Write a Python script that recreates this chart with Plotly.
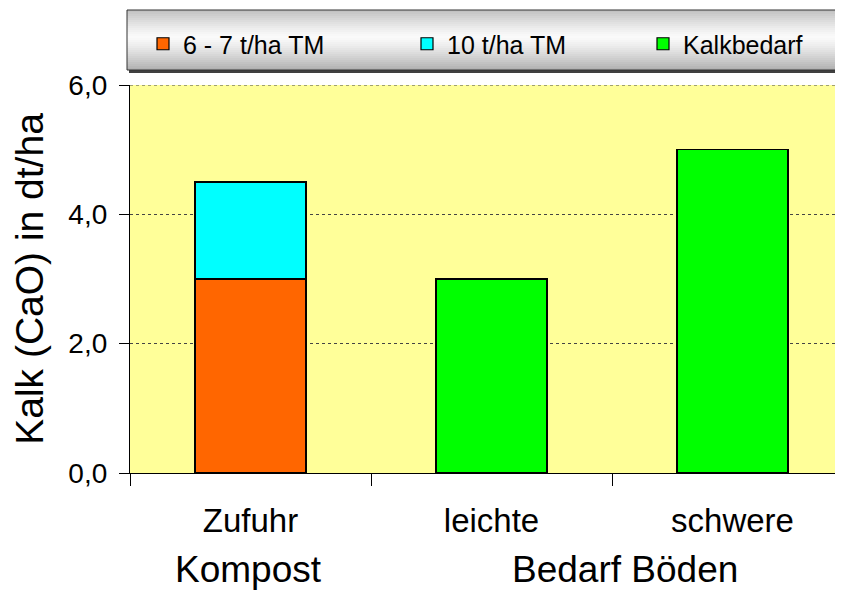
import plotly.graph_objects as go

categories = ["Zufuhr", "leichte", "schwere"]
group_labels = ["Kompost", "Bedarf Böden"]
series_names = ["6 - 7 t/ha TM", "10 t/ha TM", "Kalkbedarf"]
compost_67 = [3.0, None, None]
compost_10 = [1.5, None, None]
kalkbedarf = [None, 3.0, 5.0]
y_ticks = [0, 2, 4, 6]

colors = ["#FF6600", "#00FFFF", "#00FF00"]
FONT = "Liberation Sans, Arial, sans-serif"

# page body has an 8px default margin; work in screen pixels and offset
OFF = 8
SW, SH = 843, 590
W, H = SW - OFF, SH - OFF
# plot area in screen pixels: x 130..843, y 85..473
L = 130 - OFF
R = 0
T = 85 - OFF
B = H - (473 - OFF)
pw, ph = W - L - R, H - T - B

def px_x(x):
    return (x - OFF - L) / pw

def px_y(y):
    return (H - B - (y - OFF)) / ph

fig = go.Figure()
series = [compost_67, compost_10, kalkbedarf]
legends = ["legend", "legend2", "legend3"]
for name, vals, col, lg in zip(series_names, series, colors, legends):
    fig.add_trace(go.Bar(
        x=categories, y=vals, name=name, legend=lg, showlegend=True,
        marker=dict(color=col, line=dict(color="black", width=1.2)),
    ))

# legend background box with vertical gray gradient (stacked bands)
shapes = []
top, bot = 10, 70
n = 30
for i in range(n):
    y0 = top + (bot - top) * i / n
    y1 = top + (bot - top) * (i + 1) / n
    t = (i + 0.5) / n
    d = abs(t - 0.45) / 0.55
    g = int(250 - 75 * d ** 1.3)
    c = f"rgb({g},{g},{g})"
    shapes.append(dict(type="rect", xref="paper", yref="paper",
                       x0=px_x(127), x1=px_x(860), y0=px_y(y1), y1=px_y(y0),
                       fillcolor=c, line=dict(width=0), layer="above"))
shapes.append(dict(type="rect", xref="paper", yref="paper",
                   x0=px_x(129), x1=px_x(860), y0=px_y(bot + 3), y1=px_y(bot),
                   fillcolor="#404040", line=dict(width=0), layer="above"))
shapes.append(dict(type="rect", xref="paper", yref="paper",
                   x0=px_x(127), x1=px_x(860), y0=px_y(bot), y1=px_y(top),
                   fillcolor="rgba(0,0,0,0)", line=dict(color="#333333", width=1), layer="above"))
# dotted top border line of plot area (grid at 6,0)
shapes.append(dict(type="line", xref="paper", yref="y", x0=0, x1=1, y0=6, y1=6,
                   line=dict(color="#444444", width=1, dash="dot"), layer="above"))

leg_common = dict(orientation="h", xanchor="left", yanchor="middle",
                  bgcolor="rgba(0,0,0,0)", borderwidth=0,
                  font=dict(family=FONT, size=25, color="black"),
                  itemwidth=30)
leg_y = px_y(44)

annotations = [
    dict(text=group_labels[0], xref="paper", yref="paper", x=px_x(248), y=px_y(569),
         xanchor="center", yanchor="middle", showarrow=False,
         font=dict(family=FONT, size=37, color="black")),
    dict(text=group_labels[1], xref="paper", yref="paper", x=px_x(625), y=px_y(569),
         xanchor="center", yanchor="middle", showarrow=False,
         font=dict(family=FONT, size=37, color="black")),
]

fig.update_layout(
    width=W, height=H,
    margin=dict(l=L, r=R, t=T, b=B, pad=0),
    paper_bgcolor="white",
    plot_bgcolor="#FFFF99",
    barmode="stack",
    bargap=0.54,
    separators=",.",
    showlegend=True,
    font=dict(family=FONT, color="black"),
    shapes=shapes,
    annotations=annotations,
    legend=dict(x=px_x(143), y=leg_y, **leg_common),
    legend2=dict(x=px_x(407), y=leg_y, **leg_common),
    legend3=dict(x=px_x(643), y=leg_y, **leg_common),
    xaxis=dict(
        range=[-0.5, 2.5 - 10 / 241],
        showline=True, linecolor="black", linewidth=1.2,
        ticks="outside", tickson="boundaries", ticklen=12, tickcolor="black",
        tickfont=dict(family=FONT, size=33, color="black"),
        ticklabelstandoff=18,
        showgrid=False,
    ),
    yaxis=dict(
        range=[0, 6],
        tickvals=y_ticks, tickformat=".1f",
        showline=True, linecolor="black", linewidth=1.2,
        ticks="outside", ticklen=10, tickcolor="black",
        tickfont=dict(family=FONT, size=28, color="black"),
        ticklabelstandoff=6,
        showgrid=True, gridcolor="#444444", griddash="dot", gridwidth=1,
        zeroline=False,
        title=dict(text="Kalk (CaO) in dt/ha", font=dict(family=FONT, size=39, color="black"),
                   standoff=12),
    ),
)

fig.write_html("out.html")
